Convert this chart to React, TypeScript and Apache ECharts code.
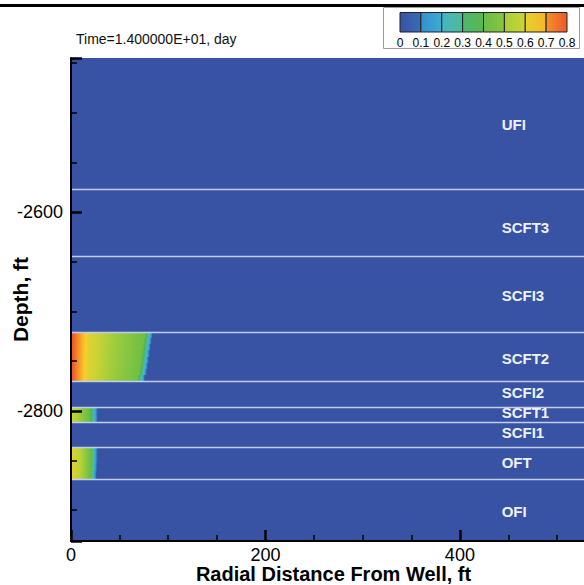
import React, { useEffect, useRef } from 'react';
import * as echarts from 'echarts';

const FONT = '"Liberation Sans", Arial, Helvetica, sans-serif';

const timeTitle = 'Time=1.400000E+01, day';
const xAxisName = 'Radial Distance From Well, ft';
const yAxisName = 'Depth, ft';

const radialMin = 0;
const radialMax = 540;
const depthMin = -2931;
const depthMax = -2445;
const majorStep = 200;

// layer boundaries (depth, ft) from top to bottom
const layerBoundaries = [-2577, -2644.3, -2720.8, -2770.1, -2796.3, -2811.4, -2836.5, -2868.7];
const layerNames = ['UFI', 'SCFT3', 'SCFI3', 'SCFT2', 'SCFI2', 'SCFT1', 'SCFI1', 'OFT', 'OFI'];
const layerLabelDepths = [-2512, -2616, -2684, -2747, -2782, -2802, -2822, -2852, -2901];
const layerLabelRadius = 443;

// saturation profiles read along radial distance
const scft2Radius = [0, 3, 6, 9, 12, 15, 19, 28, 45, 63, 75, 77.5, 79.5, 81.5, 83.5];
const scft2Saturation = [0.79, 0.77, 0.74, 0.71, 0.68, 0.65, 0.61, 0.57, 0.51, 0.47, 0.44, 0.36, 0.24, 0.16, 0.02];
const scft2Front = [84, 83, 82, 81, 80, 79, 78, 76];

const scft1Radius = [0, 6, 12, 18, 21, 23.5, 25.5, 27.5];
const scft1Saturation = [0.56, 0.53, 0.48, 0.43, 0.37, 0.22, 0.14, 0.02];
const scft1Front = [27.5, 27.5];

const oftRadius = [0, 4, 9, 14, 18, 21.5, 23.5, 25.5, 27.5];
const oftSaturation = [0.62, 0.59, 0.55, 0.5, 0.46, 0.41, 0.26, 0.14, 0.02];
const oftFront = [27.5, 27.5, 27, 26.5];

// colour scale
const colorbarTicks = [0, 0.1, 0.2, 0.3, 0.4, 0.5, 0.6, 0.7, 0.8];
const cmapValues = [0, 0.05, 0.15, 0.25, 0.35, 0.45, 0.55, 0.65, 0.75, 0.8];
const cmapColors = ['#3953a4', '#3953a4', '#33a7df', '#4dbdb9', '#4bb54f', '#74c044', '#bcd437', '#f7cf2b', '#f3782a', '#e8432a'];

function hexToRgb(h: string) {
  const n = parseInt(h.slice(1), 16);
  return [(n >> 16) & 255, (n >> 8) & 255, n & 255];
}
function cmap(v: number) {
  if (v <= cmapValues[0]) return cmapColors[0];
  const last = cmapValues.length - 1;
  if (v >= cmapValues[last]) return cmapColors[last];
  let i = 0;
  while (i < last && v > cmapValues[i + 1]) i++;
  const t = (v - cmapValues[i]) / (cmapValues[i + 1] - cmapValues[i]);
  const a = hexToRgb(cmapColors[i]);
  const b = hexToRgb(cmapColors[i + 1]);
  const c = a.map((x, k) => Math.round(x + (b[k] - x) * t));
  return `rgb(${c[0]},${c[1]},${c[2]})`;
}

export default function App() {
  const ref = useRef<HTMLDivElement>(null);
  useEffect(() => {
    if (!ref.current) return;
    const chart = echarts.init(ref.current, undefined, { renderer: 'svg' });

    const plumes = [
      { top: layerBoundaries[2], bottom: layerBoundaries[3], radius: scft2Radius, sat: scft2Saturation, fronts: scft2Front },
      { top: layerBoundaries[4], bottom: layerBoundaries[5], radius: scft1Radius, sat: scft1Saturation, fronts: scft1Front },
      { top: layerBoundaries[6], bottom: layerBoundaries[7], radius: oftRadius, sat: oftSaturation, fronts: oftFront },
    ];
    const plumeRows: any[] = [];
    plumes.forEach((p, pi) => {
      const n = p.fronts.length;
      const h = (p.top - p.bottom) / n;
      p.fronts.forEach((f, ri) => {
        plumeRows.push({ value: [0, p.top - ri * h, f, p.top - (ri + 1) * h], plume: pi });
      });
    });

    const colorbarBins = colorbarTicks.slice(0, -1).map((t, i) => [t, 0, colorbarTicks[i + 1], 1]);

    const option: any = {
      animation: false,
      backgroundColor: '#ffffff',
      textStyle: { fontFamily: FONT },
      title: {
        text: timeTitle,
        left: 76,
        top: 32,
        padding: 0,
        textStyle: { fontFamily: FONT, fontSize: 14, fontWeight: 'normal', color: '#111' },
      },
      graphic: [
        {
          type: 'rect',
          z: 1,
          shape: { x: 383.5, y: 7.5, width: 196, height: 41 },
          style: { fill: '#ffffff', stroke: '#9a9a9a', lineWidth: 1 },
        },
        {
          type: 'line',
          z: 20,
          shape: { x1: 0, y1: 5.5, x2: 584, y2: 5.5 },
          style: { stroke: '#000', lineWidth: 3 },
        },
      ],
      grid: [
        { left: 71, top: 58, width: 525, height: 483, show: true, backgroundColor: cmap(0), borderWidth: 0, containLabel: false, outerBoundsMode: 'none' },
        { left: 400, top: 12.5, width: 167, height: 19.5, containLabel: false, outerBoundsMode: 'none' },
      ],
      xAxis: [
        {
          gridIndex: 0,
          type: 'value',
          min: radialMin,
          max: radialMax,
          interval: majorStep,
          z: 10,
          axisLine: { show: true, onZero: false, lineStyle: { color: '#000', width: 2 } },
          axisTick: { show: true, inside: true, length: 11, lineStyle: { color: '#000', width: 2.5 } },
          minorTick: { show: true, splitNumber: 4, length: 6, lineStyle: { color: '#000', width: 1.5 } },
          axisLabel: {
            fontSize: 18,
            lineHeight: 17,
            color: '#000',
            margin: 5,
            showMaxLabel: false,
            fontFamily: FONT,
            formatter: (v: number) => String(v),
          },
          splitLine: { show: false },
          name: xAxisName,
          nameLocation: 'middle',
          nameGap: 23,
          nameMoveOverlap: false,
          nameTextStyle: { fontSize: 20, lineHeight: 20, fontWeight: 'bold', color: '#000', fontFamily: FONT },
        },
        {
          gridIndex: 1,
          type: 'value',
          min: 0,
          max: 0.8,
          interval: 0.1,
          z: 10,
          axisLine: { show: false },
          axisTick: { show: false },
          splitLine: { show: false },
          axisLabel: {
            fontSize: 12,
            color: '#000',
            margin: 5,
            fontFamily: FONT,
            formatter: (v: number) => String(Math.round(v * 10) / 10),
          },
        },
      ],
      yAxis: [
        {
          gridIndex: 0,
          type: 'value',
          min: depthMin,
          max: depthMax,
          splitNumber: 2,
          minInterval: majorStep,
          maxInterval: majorStep,
          z: 10,
          axisLine: { show: true, onZero: false, lineStyle: { color: '#000', width: 2 } },
          axisTick: { show: true, inside: true, length: 11, lineStyle: { color: '#000', width: 2.5 } },
          minorTick: { show: true, splitNumber: 4, length: 6, lineStyle: { color: '#000', width: 1.5 } },
          axisLabel: {
            fontSize: 18,
            color: '#000',
            margin: 8,
            showMinLabel: false,
            showMaxLabel: false,
            fontFamily: FONT,
            formatter: (v: number) => String(v),
          },
          splitLine: { show: false },
          name: yAxisName,
          nameLocation: 'middle',
          nameRotate: 90,
          nameGap: 40,
          nameMoveOverlap: false,
          nameTextStyle: { fontSize: 21, fontWeight: 'bold', color: '#000', fontFamily: FONT },
        },
        { gridIndex: 1, type: 'value', min: 0, max: 1, show: false },
      ],
      series: [
        {
          type: 'custom',
          name: 'saturation',
          xAxisIndex: 0,
          yAxisIndex: 0,
          z: 2,
          clip: true,
          silent: true,
          encode: { x: [0, 2], y: [1, 3] },
          data: plumeRows,
          renderItem: (params: any, api: any) => {
            const row = plumeRows[params.dataIndex];
            const p = plumes[row.plume];
            const p0 = api.coord([api.value(0), api.value(1)]);
            const p1 = api.coord([api.value(2), api.value(3)]);
            const rLast = p.radius[p.radius.length - 1];
            const stops = p.radius.map((r: number, i: number) => ({ offset: r / rLast, color: cmap(p.sat[i]) }));
            const top = Math.round(p0[1]);
            const bottom = Math.round(p1[1]);
            return {
              type: 'rect',
              shape: { x: p0[0], y: top, width: p1[0] - p0[0], height: bottom - top },
              style: { fill: new echarts.graphic.LinearGradient(0, 0, 1, 0, stops) },
            };
          },
        },
        {
          type: 'custom',
          name: 'layers',
          xAxisIndex: 0,
          yAxisIndex: 0,
          z: 5,
          silent: true,
          encode: { x: 0, y: 1 },
          data: layerLabelDepths.map((d) => [layerLabelRadius, d]),
          renderItem: (params: any, api: any) => {
            const pt = api.coord([api.value(0), api.value(1)]);
            return {
              type: 'text',
              x: pt[0],
              y: pt[1],
              style: {
                text: layerNames[params.dataIndex],
                fill: '#eef1fa',
                font: `bold 15px ${FONT}`,
                align: 'left',
                verticalAlign: 'middle',
              },
            };
          },
          markLine: {
            silent: true,
            symbol: ['none', 'none'],
            label: { show: false },
            lineStyle: { type: 'solid', color: '#c3cdee', width: 1.3 },
            emphasis: { disabled: true },
            data: layerBoundaries.map((d) => ({ yAxis: d })),
          },
        },
        {
          type: 'custom',
          name: 'colorbar',
          xAxisIndex: 1,
          yAxisIndex: 1,
          z: 10,
          silent: true,
          encode: { x: [0, 2], y: [1, 3] },
          data: colorbarBins,
          renderItem: (params: any, api: any) => {
            const a = api.value(0);
            const b = api.value(2);
            const p0 = api.coord([a, 1]);
            const p1 = api.coord([b, 0]);
            return {
              type: 'rect',
              shape: { x: p0[0], y: p0[1], width: p1[0] - p0[0], height: p1[1] - p0[1] },
              style: {
                fill: new echarts.graphic.LinearGradient(0, 0, 1, 0, [
                  { offset: 0, color: cmap(a + 0.02) },
                  { offset: 1, color: cmap(b - 0.02) },
                ]),
                stroke: '#222',
                lineWidth: 1,
              },
            };
          },
        },
      ],
    };
    chart.setOption(option);
    return () => chart.dispose();
  }, []);
  return (
    <div
      ref={ref}
      style={{ position: 'absolute', left: 0, top: 0, width: 584, height: 585, overflow: 'hidden', background: '#fff' }}
    />
  );
}
